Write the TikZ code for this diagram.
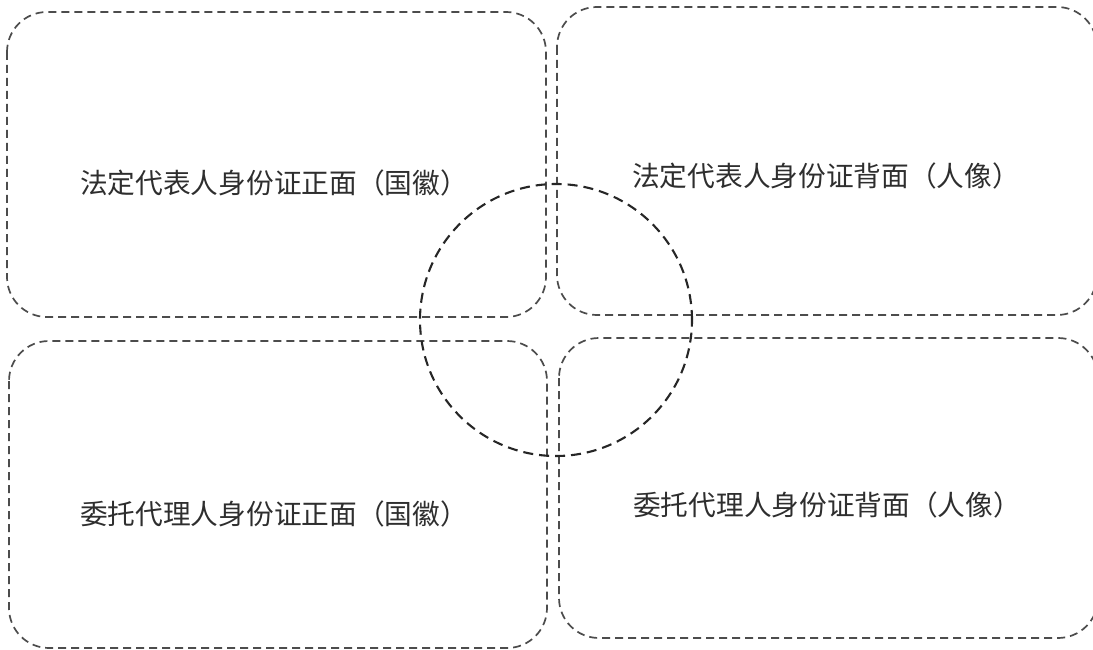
\documentclass[tikz,border=0pt]{standalone}
\usepackage{fontspec}
\newfontfamily\cjk{Noto Sans CJK SC}
\begin{document}
\begin{tikzpicture}[x=1pt,y=-1pt,
  cardbox/.style={draw=black!70, line width=1.7pt, dash pattern=on 8pt off 5pt, rounded corners=40pt},
  ring/.style={draw=black!85, line width=2.1pt, dash pattern=on 10pt off 6pt},
  label/.style={font=\cjk\fontsize{27.7pt}{32pt}\selectfont, text=black!82, inner sep=0pt, anchor=west}]
\useasboundingbox (0,0) rectangle (1093,650);
\fill[white] (0,0) rectangle (1093,650);
% boxes
\draw[cardbox] (7,12) rectangle (546,317);
\draw[cardbox] (557,7) rectangle (1097,315);
\draw[cardbox] (9,341) rectangle (547,648);
\draw[cardbox] (559,338) rectangle (1098,638);
% circle
\node[ring, circle, minimum size=272pt, inner sep=0pt] (c) at (556,320) {};
% labels
\node[label] (t1) at (80,183) {法定代表人身份证正面（国徽）};
\node[label] (t2) at (632,176) {法定代表人身份证背面（人像）};
\node[label] (t3) at (80,514) {委托代理人身份证正面（国徽）};
\node[label] (t4) at (633,505) {委托代理人身份证背面（人像）};
\end{tikzpicture}
\end{document}
